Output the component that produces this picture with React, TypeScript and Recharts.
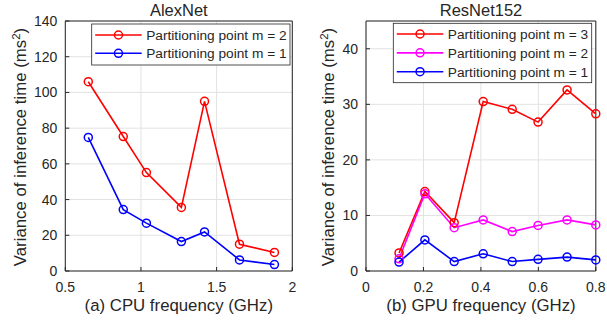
import React from 'react';
import { LineChart, Line, XAxis, YAxis, CartesianGrid, ReferenceArea, Customized } from 'recharts';

// ---------- data ----------
const cpuFreq = [0.652, 0.883, 1.036, 1.267, 1.42, 1.651, 1.882];
const alexM2 = [106.0, 75.3, 55.1, 35.6, 95.0, 15.0, 10.4];
const alexM1 = [74.8, 34.4, 26.8, 16.5, 21.9, 6.2, 3.6];

const gpuFreq = [0.115, 0.205, 0.307, 0.408, 0.509, 0.599, 0.7, 0.8];
const resM3 = [3.25, 14.3, 8.7, 30.5, 29.1, 26.8, 32.6, 28.3];
const resM2 = [2.2, 13.9, 7.8, 9.2, 7.1, 8.2, 9.2, 8.3];
const resM1 = [1.6, 5.6, 1.7, 3.1, 1.7, 2.1, 2.5, 2.0];

const alexTicksX = [0.5, 1, 1.5, 2];
const alexTicksY = [0, 20, 40, 60, 80, 100, 120, 140];
const resTicksX = [0, 0.2, 0.4, 0.6, 0.8];
const resTicksY = [0, 10, 20, 30, 40];

const alexSeries = [
  { key: 'm2', name: 'Partitioning point m = 2', color: '#ff0000', values: alexM2 },
  { key: 'm1', name: 'Partitioning point m = 1', color: '#0000ff', values: alexM1 },
];
const resSeries = [
  { key: 'm3', name: 'Partitioning point m = 3', color: '#ff0000', values: resM3 },
  { key: 'm2', name: 'Partitioning point m = 2', color: '#ff00ff', values: resM2 },
  { key: 'm1', name: 'Partitioning point m = 1', color: '#0000ff', values: resM1 },
];

const alexData = cpuFreq.map((f, i) => {
  const row: any = { f };
  alexSeries.forEach((s) => (row[s.key] = s.values[i]));
  return row;
});
const resData = gpuFreq.map((f, i) => {
  const row: any = { f };
  resSeries.forEach((s) => (row[s.key] = s.values[i]));
  return row;
});

const FONT = '"Liberation Sans", Arial, Helvetica, sans-serif';
const TXT = '#262626';

type OverlayProps = {
  title: string;
  xLabel: string;
  plotCx: number;
  yLabelX: number;
  plotCy: number;
  legend: { x: number; y: number; w: number; rowH: number; top: number; h: number };
  series: { name: string; color: string }[];
};

function Overlay({ title, xLabel, plotCx, yLabelX, plotCy, legend, series }: OverlayProps) {
  return (
    <g fontFamily={FONT} fill={TXT}>
      <text x={plotCx} y={16} textAnchor="middle" fontSize={16.5} fill={TXT}>
        {title}
      </text>
      <text x={plotCx} y={310.5} textAnchor="middle" fontSize={16.8} fill={TXT}>
        {xLabel}
      </text>
      <text
        transform={`translate(${yLabelX},${plotCy}) rotate(-90)`}
        textAnchor="middle"
        fontSize={16.8}
        fill={TXT}
      >
        Variance of inference time (ms
        <tspan dy={-6} fontSize={11.5}>2</tspan>
        <tspan dy={6}>)</tspan>
      </text>
      <rect
        x={legend.x}
        y={legend.y}
        width={legend.w}
        height={legend.h}
        fill="#ffffff"
        stroke={TXT}
        strokeWidth={0.8}
      />
      {series.map((s, i) => {
        const cy = legend.y + legend.top + i * legend.rowH;
        const x1 = legend.x + 3.5;
        const x2 = legend.x + 50;
        return (
          <g key={s.name}>
            <line x1={x1} x2={x2} y1={cy} y2={cy} stroke={s.color} strokeWidth={1.6} />
            <circle cx={(x1 + x2) / 2} cy={cy} r={4} fill="none" stroke={s.color} strokeWidth={1.5} />
            <text x={legend.x + 54.5} y={cy + 4.8} fontSize={13.7} fill={TXT}>
              {s.name}
            </text>
          </g>
        );
      })}
    </g>
  );
}

const tickStyle = { fill: TXT, fontSize: 14, fontFamily: FONT };

export default function App() {
  return (
    <div
      style={{
        position: 'absolute',
        left: 0,
        top: 0,
        width: 607,
        height: 322,
        background: '#ffffff',
        fontFamily: FONT,
      }}
    >
      <div style={{ position: 'absolute', left: 0, top: 0 }}>
        <LineChart width={300} height={322} data={alexData} margin={{ top: 21, right: 7.7, bottom: 0, left: 0 }}>
          <CartesianGrid stroke="#e2e2e2" strokeWidth={1} />
          <XAxis
            dataKey="f"
            type="number"
            domain={[0.5, 2]}
            ticks={alexTicksX}
            height={51}
            tick={tickStyle}
            tickSize={-4}
            tickMargin={15}
            axisLine={false}
            tickLine={{ stroke: TXT }}
          />
          <YAxis
            type="number"
            domain={[0, 140]}
            ticks={alexTicksY}
            width={65.3}
            tick={tickStyle}
            tickSize={-4}
            tickMargin={12}
            axisLine={false}
            tickLine={{ stroke: TXT }}
          />
          {alexSeries.map((s) => (
            <Line
              key={s.key}
              dataKey={s.key}
              name={s.name}
              type="linear"
              stroke={s.color}
              strokeWidth={1.6}
              dot={{ r: 4, fill: 'none', stroke: s.color, strokeWidth: 1.5 }}
              isAnimationActive={false}
            />
          ))}
          <ReferenceArea x1={0.5} x2={2} y1={0} y2={140} fill="none" stroke={TXT} strokeWidth={1} fillOpacity={0} />
          <Customized
            component={
              <Overlay
                title="AlexNet"
                xLabel="(a) CPU frequency (GHz)"
                plotCx={178.8}
                yLabelX={26}
                plotCy={147}
                legend={{ x: 91.7, y: 24, w: 198.3, h: 41, top: 11, rowH: 18.3 }}
                series={alexSeries}
              />
            }
          />
        </LineChart>
      </div>
      <div style={{ position: 'absolute', left: 300, top: 0 }}>
        <LineChart width={307} height={322} data={resData} margin={{ top: 21, right: 11.2, bottom: 0, left: 0 }}>
          <CartesianGrid stroke="#e2e2e2" strokeWidth={1} />
          <XAxis
            dataKey="f"
            type="number"
            domain={[0, 0.8]}
            ticks={resTicksX}
            height={51}
            tick={tickStyle}
            tickSize={-4}
            tickMargin={15}
            axisLine={false}
            tickLine={{ stroke: TXT }}
          />
          <YAxis
            type="number"
            domain={[0, 45]}
            ticks={resTicksY}
            width={66}
            tick={tickStyle}
            tickSize={-4}
            tickMargin={12}
            axisLine={false}
            tickLine={{ stroke: TXT }}
          />
          {resSeries.map((s) => (
            <Line
              key={s.key}
              dataKey={s.key}
              name={s.name}
              type="linear"
              stroke={s.color}
              strokeWidth={1.6}
              dot={{ r: 4, fill: 'none', stroke: s.color, strokeWidth: 1.5 }}
              isAnimationActive={false}
            />
          ))}
          <ReferenceArea x1={0} x2={0.8} y1={0} y2={45} fill="none" stroke={TXT} strokeWidth={1} fillOpacity={0} />
          <Customized
            component={
              <Overlay
                title="ResNet152"
                xLabel="(b) GPU frequency (GHz)"
                plotCx={181}
                yLabelX={34}
                plotCy={147}
                legend={{ x: 93.3, y: 23.3, w: 198.4, h: 59.4, top: 10.7, rowH: 18.85 }}
                series={resSeries}
              />
            }
          />
        </LineChart>
      </div>
    </div>
  );
}
